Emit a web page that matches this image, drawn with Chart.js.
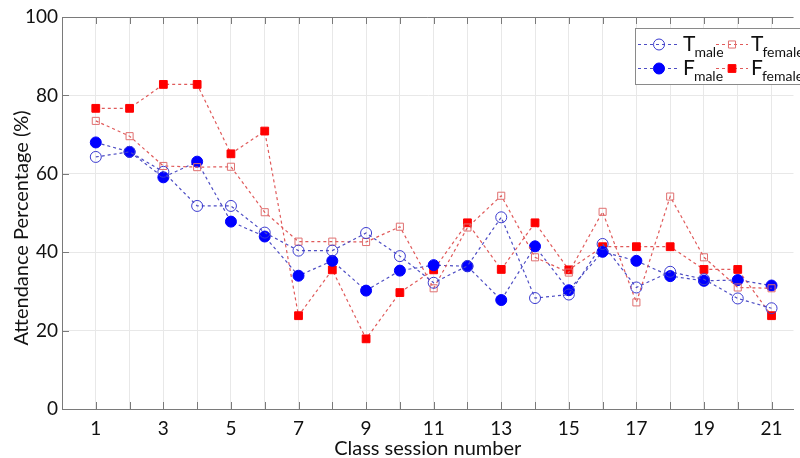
<!DOCTYPE html>
<html>
<head>
<meta charset="utf-8">
<script src="https://cdn.jsdelivr.net/npm/chart.js@4"></script>
<style>
  html, body { margin: 0; padding: 0; background: #fff; }
  #wrap { width: 800px; height: 458px; }
</style>
</head>
<body>
<div id="wrap"><canvas id="attendance" width="800" height="458"></canvas></div>
<script>
        const sessions = [1, 2, 3, 4, 5, 6, 7, 8, 9, 10, 11, 12, 13, 14, 15, 16, 17, 18, 19, 20, 21];
        const tMale = [64.3, 65.6, 60.5, 51.8, 51.8, 45.0, 40.4, 40.4, 44.9, 39.0, 32.2, 36.5, 48.9, 28.3, 29.2, 42.1, 31.0, 35.0, 33.1, 28.2, 25.7];
        const fMale = [68.0, 65.6, 59.1, 63.1, 47.8, 44.0, 34.0, 37.8, 30.2, 35.3, 36.7, 36.4, 27.8, 41.5, 30.3, 40.1, 37.8, 33.9, 32.7, 32.9, 31.5];
        const tFemale = [73.5, 69.6, 62.0, 61.7, 61.8, 50.2, 42.7, 42.7, 42.6, 46.5, 30.8, 46.3, 54.4, 38.7, 34.8, 50.3, 27.2, 54.2, 38.7, 31.0, 30.8];
        const fFemale = [76.7, 76.7, 82.8, 82.8, 65.1, 70.9, 23.8, 35.5, 17.9, 29.7, 35.5, 47.5, 35.6, 47.5, 35.5, 41.4, 41.4, 41.4, 35.6, 35.6, 23.8];
        const yTicks = [0, 20, 40, 60, 80, 100];
        const xLabels = [1, 3, 5, 7, 9, 11, 13, 15, 17, 19, 21];

        const fontName = 'Lato, "Open Sans", sans-serif';
        const blueLine = '#4d4dc4';
        const redLine = '#e05a5a';

        function pts(values) {
            return sessions.map((s, i) => ({ x: s, y: values[i] }));
        }

        // matlab style ticks pointing into the plot, y title, legend with subscripts
        const framePlugin = {
            id: 'frame',
            afterDraw(chart) {
                const ctx = chart.ctx;
                const area = chart.chartArea;
                const xs = chart.scales.x;
                const ys = chart.scales.y;
                ctx.save();
                ctx.strokeStyle = '#7a7a7a';
                ctx.lineWidth = 1;
                ctx.beginPath();
                for (let s = 1; s <= 21; s++) {
                    const px = Math.round(xs.getPixelForValue(s)) + 0.5;
                    ctx.moveTo(px, area.bottom);
                    ctx.lineTo(px, area.bottom - 7);
                    ctx.moveTo(px, area.top);
                    ctx.lineTo(px, area.top + 7);
                }
                yTicks.forEach(v => {
                    const py = Math.round(ys.getPixelForValue(v)) + 0.5;
                    ctx.moveTo(area.left, py);
                    ctx.lineTo(area.left + 7, py);
                });
                ctx.moveTo(area.left, area.top + 0.5);
                ctx.lineTo(area.right, area.top + 0.5);
                ctx.stroke();

                // y axis title
                ctx.save();
                ctx.translate(22, 228);
                ctx.rotate(-Math.PI / 2);
                ctx.fillStyle = '#111';
                ctx.font = '20px ' + fontName;
                ctx.textAlign = 'center';
                ctx.textBaseline = 'middle';
                ctx.fillText('Attendance Percentage (%)', 0, 0);
                ctx.restore();

                // legend
                const bx = 635, by = 28, bw = 200, bh = 56;
                ctx.fillStyle = '#fff';
                ctx.fillRect(bx, by, bw, bh);
                ctx.strokeStyle = '#8a8a8a';
                ctx.lineWidth = 1;
                ctx.strokeRect(bx + 0.5, by + 0.5, bw, bh);

                const entries = [
                    { x: 638, len: 42, tx: 683, y: 44, main: 'T', sub: 'male', ds: 0 },
                    { x: 716, len: 32, tx: 751, y: 44, main: 'T', sub: 'female', ds: 1 },
                    { x: 638, len: 42, tx: 683, y: 68, main: 'F', sub: 'male', ds: 2 },
                    { x: 716, len: 32, tx: 751, y: 68, main: 'F', sub: 'female', ds: 3 }
                ];
                entries.forEach(e => {
                    const d = chart.data.datasets[e.ds];
                    ctx.strokeStyle = d.borderColor;
                    ctx.lineWidth = 1.2;
                    ctx.setLineDash([3, 3]);
                    ctx.beginPath();
                    ctx.moveTo(e.x, e.y + 0.5);
                    ctx.lineTo(e.x + e.len, e.y + 0.5);
                    ctx.stroke();
                    ctx.setLineDash([]);
                    ctx.fillStyle = d.pointBackgroundColor;
                    ctx.strokeStyle = d.pointBorderColor;
                    ctx.lineWidth = d.pointBorderWidth;
                    Chart.helpers.drawPoint(ctx, {
                        pointStyle: d.pointStyle,
                        radius: d.pointRadius,
                        borderWidth: d.pointBorderWidth
                    }, e.x + Math.round(e.len / 2), e.y + 0.5);
                    ctx.fillStyle = '#111';
                    ctx.font = '21px ' + fontName;
                    ctx.textBaseline = 'alphabetic';
                    ctx.textAlign = 'left';
                    ctx.fillText(e.main, e.tx, e.y + 7);
                    const w = ctx.measureText(e.main).width;
                    ctx.font = '14px ' + fontName;
                    ctx.fillText(e.sub, e.tx + w - 1, e.y + 13);
                });
                ctx.restore();
            }
        };

        const ctx = document.getElementById('attendance').getContext('2d');

        const chart = new Chart(ctx, {
            type: 'line',
            data: {
                datasets: [
                    {
                        label: 'T male',
                        data: pts(tMale),
                        borderColor: blueLine,
                        borderWidth: 1.2,
                        borderDash: [3, 3],
                        pointStyle: 'circle',
                        pointRadius: 5.5,
                        pointBorderWidth: 1,
                        pointBorderColor: '#3b3bd0',
                        pointBackgroundColor: 'rgba(255,255,255,0)',
                        fill: false
                    },
                    {
                        label: 'T female',
                        data: pts(tFemale),
                        borderColor: redLine,
                        borderWidth: 1.2,
                        borderDash: [3, 3],
                        pointStyle: 'rect',
                        pointRadius: 5,
                        pointBorderWidth: 1,
                        pointBorderColor: '#e07070',
                        pointBackgroundColor: 'rgba(255,255,255,0)',
                        fill: false
                    },
                    {
                        label: 'F male',
                        data: pts(fMale),
                        borderColor: blueLine,
                        borderWidth: 1.2,
                        borderDash: [3, 3],
                        pointStyle: 'circle',
                        pointRadius: 5.5,
                        pointBorderWidth: 1,
                        pointBorderColor: '#0000ff',
                        pointBackgroundColor: '#0000ff',
                        fill: false
                    },
                    {
                        label: 'F female',
                        data: pts(fFemale),
                        borderColor: redLine,
                        borderWidth: 1.2,
                        borderDash: [3, 3],
                        pointStyle: 'rect',
                        pointRadius: 5.5,
                        pointBorderWidth: 1,
                        pointBorderColor: '#ff0000',
                        pointBackgroundColor: '#ff0000',
                        fill: false
                    }
                ]
            },
            options: {
                responsive: false,
                animation: false,
                layout: { padding: { top: 17, right: 0, left: 0, bottom: 0 } },
                plugins: {
                    legend: { display: false },
                    tooltip: { enabled: false }
                },
                scales: {
                    x: {
                        type: 'linear',
                        min: 0,
                        max: 21.65,
                        afterFit(scale) { scale.height = 49; },
                        grid: { color: '#e8e8e8', drawTicks: false },
                        border: { color: '#7a7a7a' },
                        ticks: {
                            stepSize: 1,
                            includeBounds: false,
                            autoSkip: false,
                            maxRotation: 0,
                            padding: 8,
                            color: '#111',
                            font: { family: fontName, size: 19 },
                            callback: v => xLabels.includes(v) ? String(v) : ''
                        },
                        title: {
                            display: true,
                            text: 'Class session number',
                            color: '#111',
                            font: { family: fontName, size: 20 },
                            padding: { top: 2, bottom: -3 }
                        }
                    },
                    y: {
                        min: 0,
                        max: 100,
                        afterFit(scale) { scale.width = 62; },
                        grid: { color: '#e8e8e8', drawTicks: false },
                        border: { color: '#7a7a7a' },
                        ticks: {
                            stepSize: 20,
                            padding: 4,
                            color: '#111',
                            font: { family: fontName, size: 19 }
                        }
                    }
                }
            },
            plugins: [framePlugin]
        });
</script>
</body>
</html>
